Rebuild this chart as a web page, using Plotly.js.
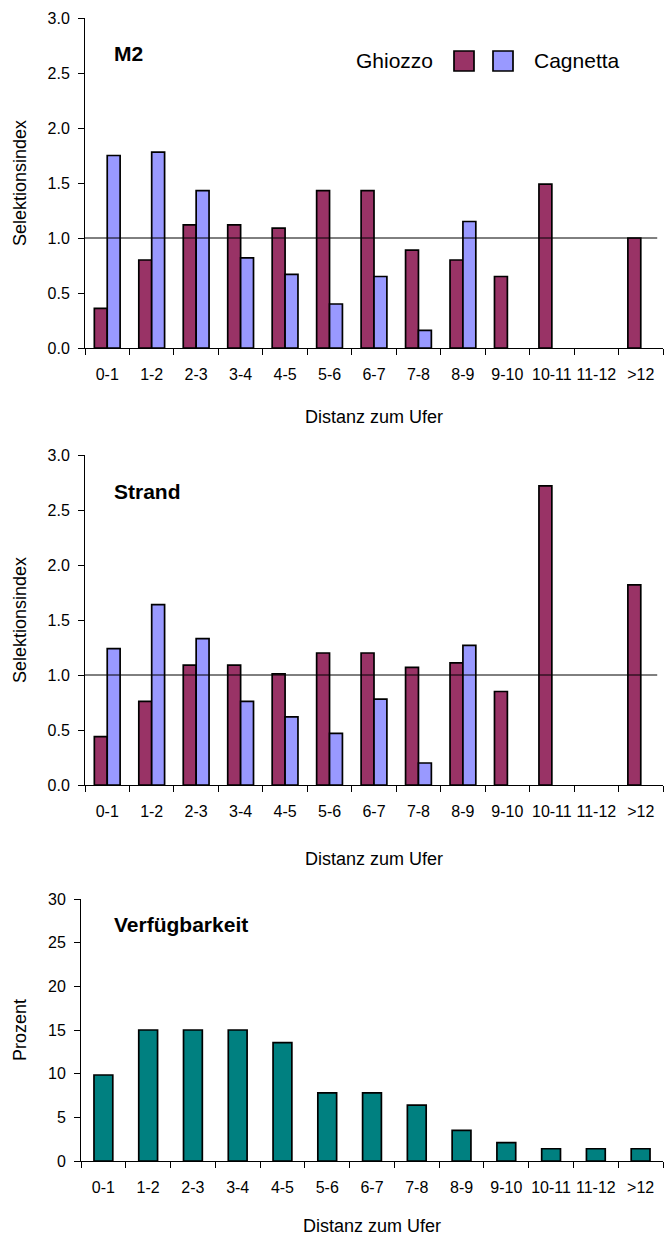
<!DOCTYPE html>
<html><head><meta charset="utf-8">
<script src="https://cdn.plot.ly/plotly-3.0.1.min.js"></script>
<style>html,body{margin:0;padding:0;background:#fff}</style>
</head><body><div id="chart" style="width:668px;height:1236px"></div>
<script>
// ---- data ----
const categories = ["0-1","1-2","2-3","3-4","4-5","5-6","6-7","7-8","8-9","9-10","10-11","11-12",">12"];
const m2Ghiozzo      = [0.36,0.80,1.12,1.12,1.09,1.43,1.43,0.89,0.80,0.65,1.49,null,1.00];
const m2Cagnetta     = [1.75,1.78,1.43,0.82,0.67,0.40,0.65,0.16,1.15,null,null,null,null];
const strandGhiozzo  = [0.44,0.76,1.09,1.09,1.01,1.20,1.20,1.07,1.11,0.85,2.72,null,1.82];
const strandCagnetta = [1.24,1.64,1.33,0.76,0.62,0.47,0.78,0.20,1.27,null,null,null,null];
const verfuegbarkeit = [9.85,15,15,15,13.55,7.8,7.8,6.4,3.5,2.1,1.4,1.4,1.4];
const seriesNames = ["Ghiozzo","Cagnetta"];
const panelTitles = ["M2","Strand","Verfügbarkeit"];
const xTitle = "Distanz zum Ufer";
const yTitles = ["Selektionsindex","Selektionsindex","Prozent"];

// ---- style ----
const W = 668, H = 1236;
const fx = p => p / W, fy = p => 1 - p / H;
const cGh = "#993366", cCa = "#9999FF", cVe = "#008080";
const font = "Liberation Sans, Arial, sans-serif";
const outline = {color: "#000", width: 1.7};

const traces = [
  {type:"bar", name:seriesNames[0], x:categories, y:m2Ghiozzo, xaxis:"x", yaxis:"y", marker:{color:cGh, line:outline}},
  {type:"bar", name:seriesNames[1], x:categories, y:m2Cagnetta, xaxis:"x", yaxis:"y", marker:{color:cCa, line:outline}},
  {type:"bar", name:seriesNames[0], x:categories, y:strandGhiozzo, xaxis:"x2", yaxis:"y2", marker:{color:cGh, line:outline}},
  {type:"bar", name:seriesNames[1], x:categories, y:strandCagnetta, xaxis:"x2", yaxis:"y2", marker:{color:cCa, line:outline}},
  {type:"bar", name:panelTitles[2], x:categories, y:verfuegbarkeit, xaxis:"x3", yaxis:"y3", width:0.42, marker:{color:cVe, line:outline}}
];

function xax(domain, anchor, standoff){
  return {type:"category", domain:domain, anchor:anchor, showline:true, linecolor:"#000", linewidth:1,
    ticks:"outside", tickson:"boundaries", ticklen:6, tickcolor:"#000", tickwidth:1,
    showgrid:false, zeroline:false, automargin:false, tickangle:0, tickfont:{size:16, color:"#000"},
    ticklabelstandoff:12,
    title:{text:xTitle, font:{size:18, color:"#000"}, standoff:standoff}};
}
function yax(domain, anchor, range, dtick, fmt, title){
  return {domain:domain, anchor:anchor, range:range, dtick:dtick, tick0:0, tickformat:fmt,
    showline:true, linecolor:"#000", linewidth:1, ticks:"outside", ticklen:6, tickcolor:"#000",
    showgrid:false, zeroline:false, automargin:false, tickfont:{size:16, color:"#000"},
    ticklabelstandoff:5,
    title:{text:title, font:{size:18, color:"#000"}, standoff:16}};
}

const layout = {
  width:W, height:H, margin:{l:0, r:0, t:0, b:0},
  paper_bgcolor:"#fff", plot_bgcolor:"#fff",
  font:{family:font, color:"#000"},
  barmode:"group", bargap:0.42, bargroupgap:0,
  showlegend:false,
  xaxis: xax([fx(85), fx(663)], "y", 28),
  yaxis: yax([fy(348), fy(18)], "x", [0,3], 0.5, ".1f", yTitles[0]),
  xaxis2: xax([fx(85), fx(663)], "y2", 33),
  yaxis2: yax([fy(785), fy(455)], "x2", [0,3], 0.5, ".1f", yTitles[1]),
  xaxis3: xax([fx(81), fx(663)], "y3", 25),
  yaxis3: yax([fy(1161), fy(899)], "x3", [0,30], 5, "d", yTitles[2]),
  shapes:[
    {type:"line", xref:"x domain", yref:"y", x0:0, x1:0.99, y0:1, y1:1, line:{color:"#000", width:1}},
    {type:"line", xref:"x2 domain", yref:"y2", x0:0, x1:0.99, y0:1, y1:1, line:{color:"#000", width:1}},
    // legend swatches
    {type:"rect", xref:"paper", yref:"paper", x0:fx(454), x1:fx(474), y0:fy(71), y1:fy(51), fillcolor:cGh, line:{color:"#000", width:1.7}},
    {type:"rect", xref:"paper", yref:"paper", x0:fx(493), x1:fx(513), y0:fy(71), y1:fy(51), fillcolor:cCa, line:{color:"#000", width:1.7}}
  ],
  annotations:[
    {text:"<b>"+panelTitles[0]+"</b>", xref:"paper", yref:"paper", x:fx(112), y:fy(53), xanchor:"left", yanchor:"middle", showarrow:false, font:{size:21}},
    {text:"<b>"+panelTitles[1]+"</b>", xref:"paper", yref:"paper", x:fx(112), y:fy(491), xanchor:"left", yanchor:"middle", showarrow:false, font:{size:21}},
    {text:"<b>"+panelTitles[2]+"</b>", xref:"paper", yref:"paper", x:fx(112), y:fy(924), xanchor:"left", yanchor:"middle", showarrow:false, font:{size:21}},
    {text:seriesNames[0], xref:"paper", yref:"paper", x:fx(394), y:fy(61), xanchor:"center", yanchor:"middle", showarrow:false, font:{size:21}},
    {text:seriesNames[1], xref:"paper", yref:"paper", x:fx(577), y:fy(61), xanchor:"center", yanchor:"middle", showarrow:false, font:{size:21}}
  ]
};

Plotly.newPlot("chart", traces, layout, {displayModeBar:false, staticPlot:true});
</script>
</body></html>
